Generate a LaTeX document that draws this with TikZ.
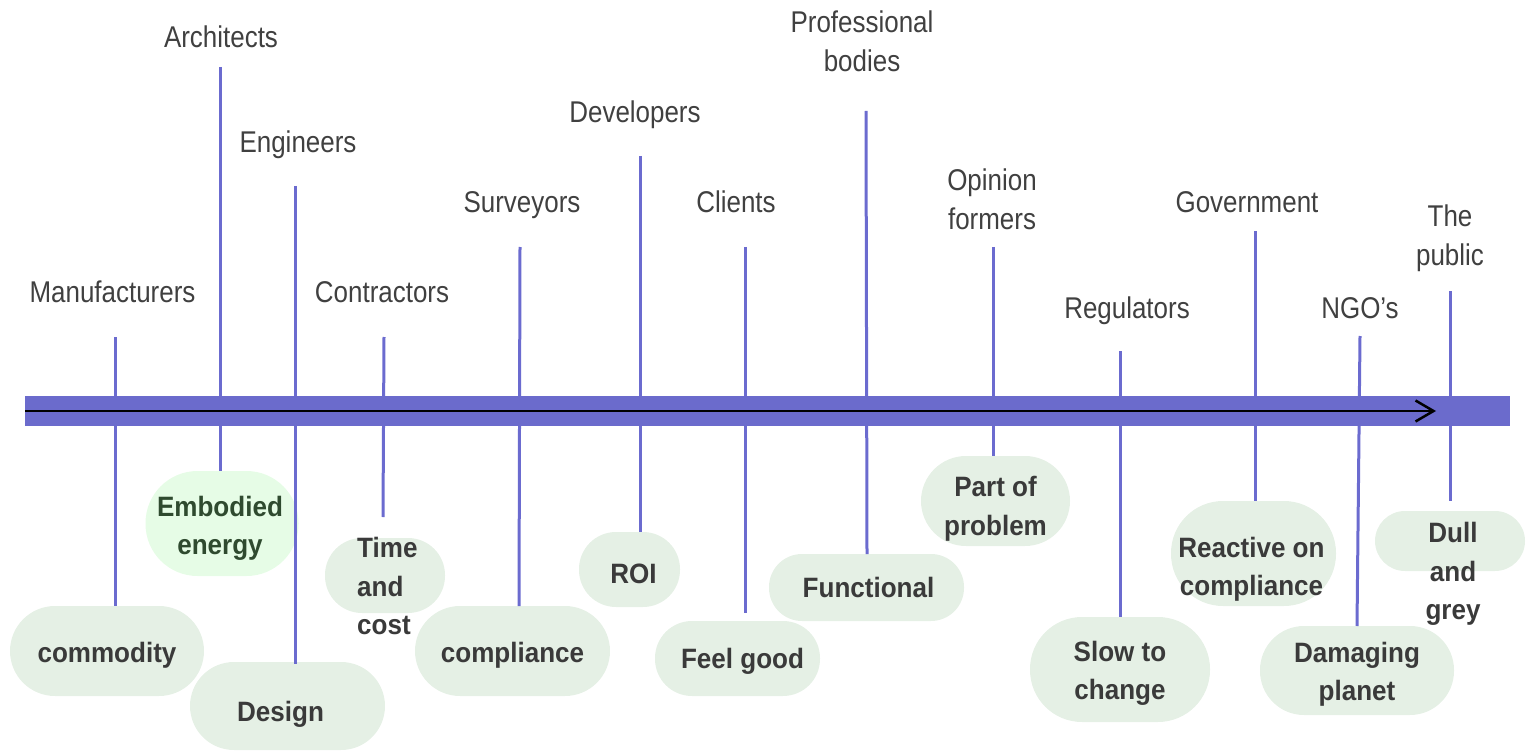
\documentclass[tikz,border=0pt]{standalone}
\usepackage{fontspec}
\usetikzlibrary{arrows.meta}
\newfontfamily\lblfam[FakeStretch=0.865]{Liberation Sans}
\newfontfamily\pillfam[FakeStretch=0.93]{Liberation Sans}
\newcommand\lblfnt{\lblfam\fontsize{30}{39}\selectfont}
\newcommand\pillfnt{\pillfam\bfseries\fontsize{28}{38.5}\selectfont}
\definecolor{barblue}{HTML}{6B6BCC}
\definecolor{lineblue}{HTML}{6B6BCF}
\definecolor{pillgreen}{HTML}{E5F0E5}
\definecolor{pilllight}{HTML}{E6FCE6}
\definecolor{pilltext}{HTML}{3A3A3A}
\definecolor{greentext}{HTML}{2F4A2F}
\definecolor{lbltext}{HTML}{404040}
\tikzset{
  lbl/.style={font=\lblfnt, text=lbltext, align=center, inner sep=0pt},
  pill/.style={fill=pillgreen, rounded corners=#1pt, inner sep=0pt},
  ptext/.style={font=\pillfnt, text=pilltext, align=center, inner sep=0pt},
  stake/.style={draw=lineblue, line width=3pt},
}
\begin{document}
\begin{tikzpicture}[x=1pt,y=-1pt]
\useasboundingbox (0,0) rectangle (1528,751);
% pills
\node[pill=45, minimum width=194pt, minimum height=90pt] (commodity) at (107,651) {};
\node[pill=52, fill=pilllight, minimum width=153pt, minimum height=105pt] (embodied) at (222,523.5) {};
\node[pill=44, minimum width=195pt, minimum height=88pt] (design) at (287.5,706) {};
\node[pill=37, minimum width=120pt, minimum height=75pt] (timecost) at (385,575.5) {};
\node[pill=45, minimum width=195pt, minimum height=90pt] (compliance) at (512.5,651) {};
\node[pill=37, minimum width=101pt, minimum height=75pt] (roi) at (629.5,569.5) {};
\node[pill=37, minimum width=165pt, minimum height=75pt] (feel) at (737.5,658.5) {};
\node[pill=33, minimum width=195pt, minimum height=67pt] (functional) at (866.5,587.5) {};
\node[pill=45, minimum width=149pt, minimum height=90pt] (part) at (995.5,501) {};
\node[pill=52, minimum width=180pt, minimum height=105pt] (slow) at (1120,669.5) {};
\node[pill=52, minimum width=165pt, minimum height=105pt] (reactive) at (1253.5,553.5) {};
\node[pill=44, minimum width=194pt, minimum height=89pt] (damaging) at (1357,670.5) {};
\node[pill=30, minimum width=150pt, minimum height=60pt] (dull) at (1450,541) {};
% pill texts
\node[ptext] (commodityT) at ([yshift=-4pt]commodity.center) {commodity};
\node[ptext, text=greentext] (embodiedT) at ([xshift=-2pt,yshift=-5pt]embodied.center) {Embodied\\energy};
\node[ptext] (designT) at ([xshift=-7pt,yshift=-8pt]design.center) {Design};
\node[ptext, align=left, anchor=west] (timecostT) at (357,586) {Time\\and\\cost};
\node[ptext] (complianceT) at ([yshift=-4pt]compliance.center) {compliance};
\node[ptext] (roiT) at ([xshift=4pt,yshift=-4pt]roi.center) {ROI};
\node[ptext] (feelT) at ([xshift=5pt,yshift=-3pt]feel.center) {Feel good};
\node[ptext] (functionalT) at ([xshift=2pt]functional.center) {Functional};
\node[ptext] (partT) at ([yshift=-8pt]part.center) {Part of\\problem};
\node[ptext] (slowT) at ([yshift=-4pt]slow.center) {Slow to\\change};
\node[ptext] (reactiveT) at ([xshift=-2pt,yshift=-16pt]reactive.center) {Reactive on\\compliance};
\node[ptext] (damagingT) at ([yshift=-4pt]damaging.center) {Damaging\\planet};
\node[ptext] (dullT) at (1453,574) {Dull\\and\\grey};
% labels
\node[lbl] (manu) at (112.5,292) {Manufacturers};
\node[lbl] (arch) at (221,37) {Architects};
\node[lbl] (eng) at (298,145) {Engineers};
\node[lbl] (contr) at (382,292) {Contractors};
\node[lbl] (surv) at (522,205) {Surveyors};
\node[lbl] (dev) at (635,115) {Developers};
\node[lbl] (cli) at (736,202) {Clients};
\node[lbl] (prof) at (862,41) {Professional\\bodies};
\node[lbl] (opin) at (992,199) {Opinion\\formers};
\node[lbl] (reg) at (1127,311) {Regulators};
\node[lbl] (gov) at (1247,202) {Government};
\node[lbl] (ngo) at (1360,308) {NGO’s};
\node[lbl] (pub) at (1450,238.5) {The\\public};
% line end coordinates
\coordinate (m1) at (115,337);   \coordinate (m2) at (115,606);
\coordinate (a1) at (220,67);    \coordinate (a2) at (220,471);
\coordinate (e1) at (295,186);   \coordinate (e2) at (295,664);
\coordinate (c1) at (384,337);   \coordinate (c2) at (383,517);
\coordinate (s1) at (520,247);   \coordinate (s2) at (519,606);
\coordinate (d1) at (640,156);   \coordinate (d2) at (640,532);
\coordinate (k1) at (745,247);   \coordinate (k2) at (745,613);
\coordinate (p1) at (866,111);   \coordinate (p2) at (867,554);
\coordinate (o1) at (993,247);   \coordinate (o2) at (993,456);
\coordinate (r1) at (1120,351);  \coordinate (r2) at (1120,617);
\coordinate (g1) at (1255,231);  \coordinate (g2) at (1255,501);
\coordinate (n1) at (1360,336);  \coordinate (n2) at (1357,626);
\coordinate (t1) at (1450,291);  \coordinate (t2) at (1450,501);
\draw[stake] (m1) -- (m2);
\draw[stake] (a1) -- (a2);
\draw[stake] (e1) -- (e2);
\draw[stake] (c1) -- (c2);
\draw[stake] (s1) -- (s2);
\draw[stake] (d1) -- (d2);
\draw[stake] (k1) -- (k2);
\draw[stake] (p1) -- (p2);
\draw[stake] (o1) -- (o2);
\draw[stake] (r1) -- (r2);
\draw[stake] (g1) -- (g2);
\draw[stake] (n1) -- (n2);
\draw[stake] (t1) -- (t2);
% bar and arrow
\fill[barblue] (25,396) rectangle (1510,426);
\coordinate (arrS) at (25,411);
\coordinate (arrE) at (1436,411);
\draw[black, line width=2.5pt, -{Straight Barb[length=18pt,width=21pt,line width=2.5pt]}] (arrS) -- (arrE);
\end{tikzpicture}
\end{document}
